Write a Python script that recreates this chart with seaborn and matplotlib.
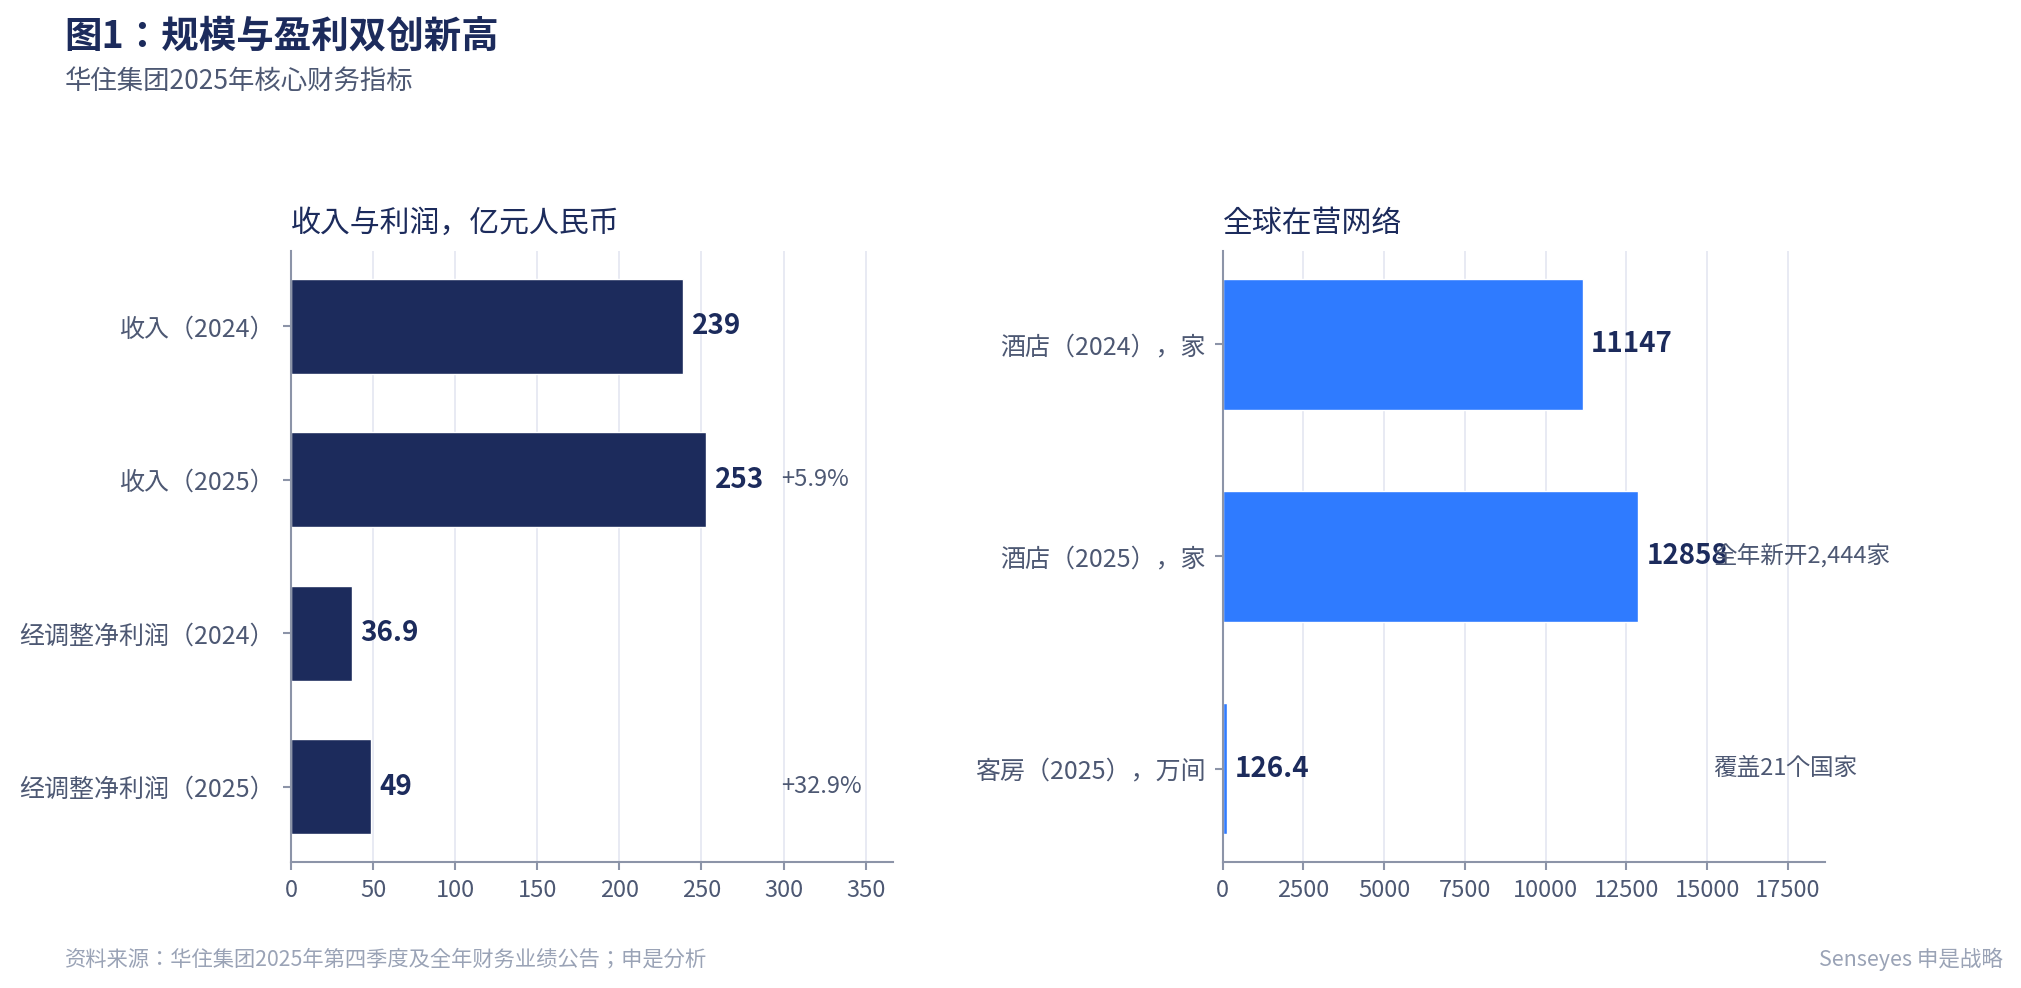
import matplotlib
matplotlib.use("Agg")
import matplotlib.pyplot as plt
import pandas as pd
import seaborn as sns

# data
fin_labels = ["收入（2024）", "收入（2025）", "经调整净利润（2024）", "经调整净利润（2025）"]
fin_values = [239, 253, 36.9, 49]
fin_notes = ["", "+5.9%", "", "+32.9%"]

net_labels = ["酒店（2024），家", "酒店（2025），家", "客房（2025），万间"]
net_values = [11147, 12858, 126.4]
net_notes = ["", "全年新开2,444家", "覆盖21个国家"]

NAVY = "#1c2b5c"
BLUE = "#2f7bff"
TICK = "#4d5873"
SPINE = "#8c94a8"
GRID = "#e6e8f2"

sns.set_theme(style="white")
plt.rcParams["font.family"] = ["Noto Sans CJK JP", "Noto Sans CJK SC", "DejaVu Sans"]


def draw_panel(ax, labels, values, notes, color, title):
    df = pd.DataFrame({"label": labels, "value": values})
    sns.barplot(data=df, x="value", y="label", orient="h", color=color,
                width=0.62, saturation=1, ax=ax)
    n = len(values)
    vmax = max(values)
    ax.set_xlim(0, vmax * 1.45)
    # matplotlib-style default margins around the bars
    lo, hi = -0.31, n - 1 + 0.31
    pad = 0.05 * (hi - lo)
    ax.set_ylim(hi + pad, lo - pad)

    for i, v in enumerate(values):
        ax.text(v + vmax * 0.02, i, f"{v:g}", va="center", ha="left",
                fontsize=20, fontweight="bold", color=NAVY)
        if notes[i]:
            ax.text(vmax * 1.18, i, notes[i], va="center", ha="left",
                    fontsize=17, color=TICK)

    ax.set_xlabel("")
    ax.set_ylabel("")
    ax.set_title(title, loc="left", fontsize=21.5, color=NAVY, pad=14)
    ax.grid(axis="x", color=GRID, linewidth=1.3)
    ax.grid(axis="y", visible=False)
    ax.set_axisbelow(True)
    for side in ["top", "right"]:
        ax.spines[side].set_visible(False)
    for side in ["left", "bottom"]:
        ax.spines[side].set_color(SPINE)
        ax.spines[side].set_linewidth(1.5)
    ax.tick_params(axis="both", colors=SPINE, labelcolor=TICK, length=6,
                   width=1.5, labelsize=18, left=True, bottom=True)
    ax.tick_params(axis="y", pad=6)
    ax.tick_params(axis="x", pad=6, labelsize=17)


fig = plt.figure(figsize=(20.21, 9.88), dpi=100)
ax1 = fig.add_axes([0.144, 0.1275, 0.298, 0.6185])
ax2 = fig.add_axes([0.605, 0.1275, 0.298, 0.6185])

draw_panel(ax1, fin_labels, fin_values, fin_notes, NAVY, "收入与利润，亿元人民币")
draw_panel(ax2, net_labels, net_values, net_notes, BLUE, "全球在营网络")

fig.text(0.032, 0.963, "图1：规模与盈利双创新高", fontsize=27, fontweight="bold",
         color=NAVY, va="center", ha="left")
fig.text(0.032, 0.918, "华住集团2025年核心财务指标", fontsize=19, color=TICK,
         va="center", ha="left")
fig.text(0.032, 0.029, "资料来源：华住集团2025年第四季度及全年财务业绩公告；申是分析",
         fontsize=15.3, color="#9aa3b6", va="center", ha="left")
fig.text(0.991, 0.029, "Senseyes 申是战略", fontsize=15.5, color="#9aa3b6",
         va="center", ha="right")

fig.savefig("out.png", dpi=100, facecolor="white")
